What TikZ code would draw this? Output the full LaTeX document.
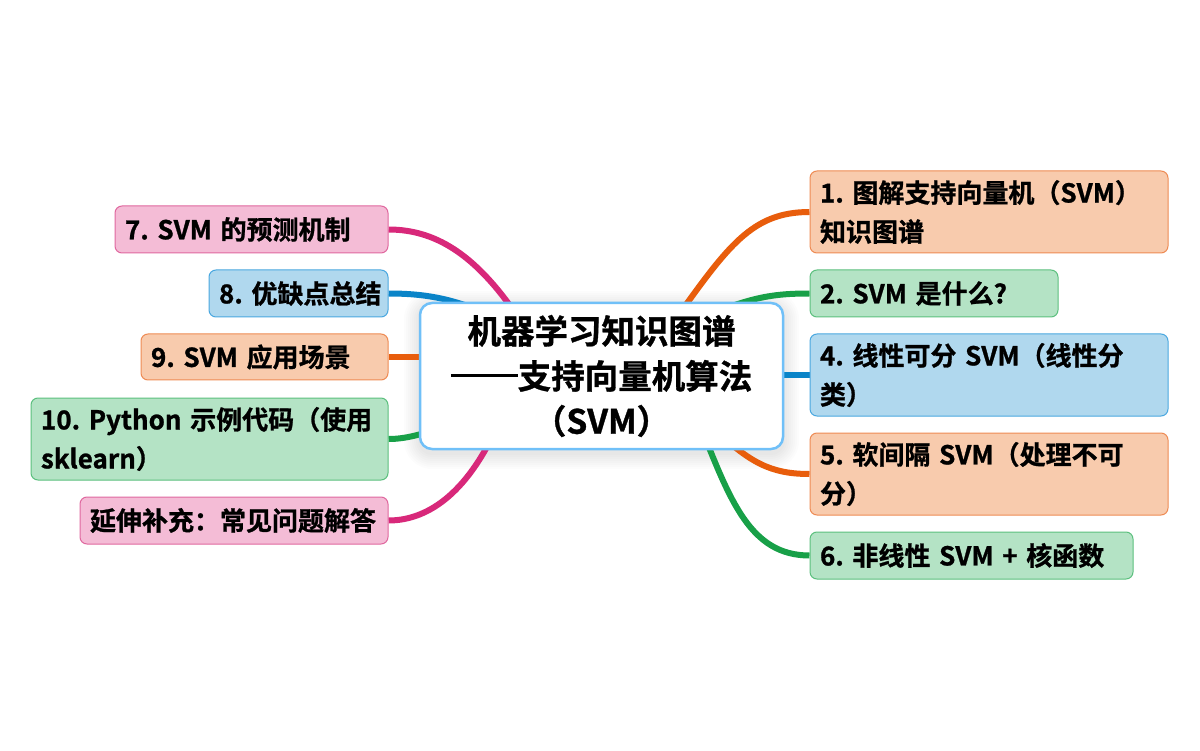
\documentclass[tikz,border=0pt]{standalone}
\usepackage{fontspec}
\setmainfont{Noto Sans CJK SC}[BoldFont={Noto Sans CJK SC Bold}, BoldFeatures={FakeBold=1}]
\pgfdeclarelayer{bgw}\pgfdeclarelayer{bg}
\pgfsetlayers{bgw,bg,main}
\frenchspacing
\newcommand{\twodash}{\rule[0.36em]{2em}{0.09em}}
\definecolor{pfill}{HTML}{F8CBAD}\definecolor{pdraw}{HTML}{EE8B54}
\definecolor{gfill}{HTML}{B4E3C5}\definecolor{gdraw}{HTML}{5CC07E}
\definecolor{bfill}{HTML}{B0D8EE}\definecolor{bdraw}{HTML}{4AA8E0}
\definecolor{kfill}{HTML}{F4BCD6}\definecolor{kdraw}{HTML}{E0689F}
\definecolor{corange}{HTML}{E85D0C}\definecolor{cgreen}{HTML}{18A048}
\definecolor{cblue}{HTML}{0A84C8}\definecolor{cpink}{HTML}{D8287A}
\definecolor{cborder}{HTML}{70C0F8}
\begin{document}
\begin{tikzpicture}[x=1pt,y=-1pt,
  branch/.style={draw, rounded corners=7pt, line width=1pt, inner xsep=10pt, inner ysep=0pt,
    align=left, font=\bfseries\fontsize{26}{39}\selectfont, text=black},
  bw/.style 2 args={text width=#1pt-20pt, minimum height=#2pt},
  peach/.style={branch, fill=pfill, draw=pdraw},
  greenb/.style={branch, fill=gfill, draw=gdraw},
  blueb/.style={branch, fill=bfill, draw=bdraw},
  pinkb/.style={branch, fill=kfill, draw=kdraw},
  conn/.style={line width=6pt},
  centre/.style={draw=cborder, line width=2.5pt, fill=white, rounded corners=12pt,
    minimum width=363pt, minimum height=146pt, align=center, inner sep=0pt,
    font=\bfseries\fontsize{33.5}{45}\selectfont}
]
\useasboundingbox (0,0) rectangle (1200,751);
\begin{pgfonlayer}{bgw}
\fill[white] (0,0) rectangle (1200,751);
\foreach \d in {2,4,...,16}{
  \fill[black, opacity=0.012, rounded corners=12pt+\d pt]
    (420-\d,303-\d+4) rectangle (783+\d,449+\d+4);
}
\end{pgfonlayer}

% branch nodes
\node[peach, bw={358}{82}] (n1) at (989,212) {1. 图解支持向量机（SVM）\\知识图谱};
\node[greenb, bw={248}{47}] (n2) at (934,293.5) {2. SVM 是什么?};
\node[blueb, bw={358}{82}] (n4) at (989,375) {4. 线性可分 SVM（线性分\\类）};
\node[peach, bw={358}{82}] (n5) at (989,474) {5. 软间隔 SVM（处理不可\\分）};
\node[greenb, bw={323}{47}] (n6) at (971.5,555.5) {6. 非线性 SVM + 核函数};
\node[pinkb, bw={273}{47}] (n7) at (251.5,229.5) {7. SVM 的预测机制};
\node[blueb, bw={179}{47}] (n8) at (298.5,293.5) {8.~优缺点总结};
\node[peach, bw={247}{46}] (n9) at (264.5,357) {9. SVM 应用场景};
\node[greenb, bw={357}{82}] (n10) at (209.5,439) {10. Python 示例代码（使用\\sklearn）};
\node[pinkb, bw={308}{47}] (n11) at (234,520.5) {延伸补充：常见问题解答};

% central node
\node[centre] (c) at (601.5,376) {机器学习知识图谱\\\twodash 支持向量机算法\\（SVM）};

% hidden start points behind the centre box
\coordinate (s1) at (675,320);
\coordinate (s2) at (700,318);
\coordinate (s4) at (760,375);
\coordinate (s5) at (715,430);
\coordinate (s6) at (700,425);
\coordinate (s7) at (520,320);
\coordinate (s8) at (490,315);
\coordinate (s9) at (440,357);
\coordinate (s10) at (450,425);
\coordinate (s11) at (500,420);

\begin{pgfonlayer}{bg}
\draw[conn, corange] (s1) .. controls (728,246) and (752,212) .. (n1.west);
\draw[conn, cgreen] (s2) .. controls (750,298) and (770,293.5) .. (n2.west);
\draw[conn, cblue] (s4) -- (n4.west);
\draw[conn, corange] (s5) .. controls (750,462) and (770,474) .. (n5.west);
\draw[conn, cgreen] (s6) .. controls (730,500) and (750,555.5) .. (n6.west);
\draw[conn, cpink] (s7) .. controls (480,260) and (440,229.5) .. (n7.east);
\draw[conn, cblue] (s8) .. controls (450,297) and (420,293.5) .. (n8.east);
\draw[conn, corange] (s9) -- (n9.east);
\draw[conn, cgreen] (s10) .. controls (420,435) and (405,439) .. (n10.east);
\draw[conn, cpink] (s11) .. controls (470,490) and (430,520.5) .. (n11.east);
\end{pgfonlayer}
\end{tikzpicture}
\end{document}
